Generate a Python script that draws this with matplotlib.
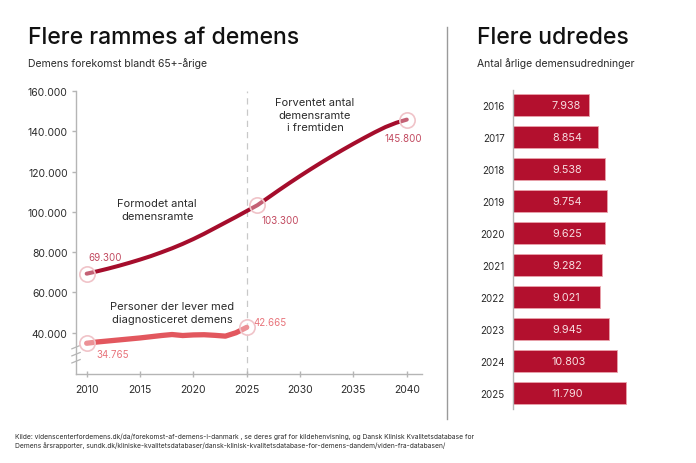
import matplotlib
matplotlib.use("Agg")
import matplotlib.pyplot as plt
from matplotlib.ticker import FuncFormatter
from matplotlib.lines import Line2D

plt.rcParams['font.family'] = ['Inter', 'DejaVu Sans']

# ---------------- data ----------------
years_est = list(range(2010, 2041))
dementia_est = [69300, 70500, 71800, 73200, 74700, 76300, 78000, 79900, 81900, 84100,
                86500, 89100, 91900, 94700, 97500, 100400, 103300, 107000, 110700, 114300,
                117800, 121200, 124500, 127700, 130800, 133800, 136700, 139500, 142100, 144200,
                145800]
years_diag = list(range(2010, 2026))
diagnosed = [34765, 35400, 35900, 36400, 36900, 37400, 38000, 38600, 39100, 38600,
             38900, 39000, 38700, 38300, 40000, 42665]
highlight_est_years = [2010, 2026, 2040]
highlight_est_vals = [69300, 103300, 145800]
highlight_diag_years = [2010, 2025]
highlight_diag_vals = [34765, 42665]

bar_years = ["2016", "2017", "2018", "2019", "2020", "2021", "2022", "2023", "2024", "2025"]
bar_values = [7938, 8854, 9538, 9754, 9625, 9282, 9021, 9945, 10803, 11790]

xticks_left = [2010, 2015, 2020, 2025, 2030, 2035, 2040]
yticks_left = [40000, 60000, 80000, 100000, 120000, 140000, 160000]

def dk(v):
    return f"{v:,.0f}".replace(",", ".")

DARK = "#a50d2c"
LIGHT = "#e2575e"
BAR = "#b3102e"
RING = "#f0c3c8"
TXT = "#2b2b2b"
GRAY = "#b5b5b5"

W, H = 696, 464
fig = plt.figure(figsize=(W / 100, H / 100), dpi=100)
fig.patch.set_facecolor("white")

def fx(px):
    return px / W

def fy(py):
    return 1 - py / H

# ---------------- left chart ----------------
ax = fig.add_axes([fx(76), fy(375), fx(421.7) - fx(76), fy(92) - fy(375)])
ax.set_xlim(2009.0, 2041.4)
ax.set_ylim(19500, 160000)
for s in ["top", "right"]:
    ax.spines[s].set_visible(False)
for s in ["left", "bottom"]:
    ax.spines[s].set_color(GRAY)
    ax.spines[s].set_linewidth(1.0)
ax.set_xticks(xticks_left)
ax.set_yticks(yticks_left)
ax.yaxis.set_major_formatter(FuncFormatter(lambda v, p: dk(v)))
ax.tick_params(axis="x", direction="inout", length=5, width=1, color=GRAY,
               labelsize=7.5, labelcolor=TXT, pad=5)
ax.tick_params(axis="y", direction="out", length=3, width=1, color=GRAY,
               labelsize=7.5, labelcolor=TXT, pad=3)

ax.axvline(2025, color="#c8c8c8", lw=0.9, ls=(0, (5, 4)), zorder=1)

ax.plot(years_est, dementia_est, color=DARK, lw=2.9, solid_capstyle="round", zorder=3)
ax.plot(years_diag, diagnosed, color=LIGHT, lw=3.8, solid_capstyle="round", zorder=3)

ax.plot(highlight_est_years, highlight_est_vals, ls="none", marker="o", ms=11,
        mfc=(1, 1, 1, 0.35), mec=RING, mew=1.2, zorder=4)
ax.plot(highlight_diag_years, highlight_diag_vals, ls="none", marker="o", ms=11,
        mfc=(1, 1, 1, 0.35), mec=RING, mew=1.2, zorder=4)

lab_dark = "#c24a60"
lab_light = "#e8747b"
ax.annotate(dk(highlight_est_vals[0]), (highlight_est_years[0], highlight_est_vals[0]),
            xytext=(1, 12), textcoords="offset points", fontsize=7, color=lab_dark, ha="left", va="center")
ax.annotate(dk(highlight_est_vals[1]), (highlight_est_years[1], highlight_est_vals[1]),
            xytext=(3, -11), textcoords="offset points", fontsize=7, color=lab_dark, ha="left", va="center")
ax.annotate(dk(highlight_est_vals[2]), (highlight_est_years[2], highlight_est_vals[2]),
            xytext=(-16, -13), textcoords="offset points", fontsize=7, color=lab_dark, ha="left", va="center")
ax.annotate(dk(highlight_diag_vals[0]), (highlight_diag_years[0], highlight_diag_vals[0]),
            xytext=(7, -8), textcoords="offset points", fontsize=7, color=lab_light, ha="left", va="center")
ax.annotate(dk(highlight_diag_vals[1]), (highlight_diag_years[1], highlight_diag_vals[1]),
            xytext=(5, 4), textcoords="offset points", fontsize=7, color=lab_light, ha="left", va="center")

ax.text(2016.6, 101100, "Formodet antal\ndemensramte", fontsize=8, color=TXT,
        ha="center", va="center", linespacing=1.3)
ax.text(2031.4, 148300, "Forventet antal\ndemensramte\ni fremtiden", fontsize=8, color=TXT,
        ha="center", va="center", linespacing=1.3)
ax.text(2018.0, 50100, "Personer der lever med\ndiagnosticeret demens", fontsize=8, color=TXT,
        ha="center", va="center", linespacing=1.3)

# axis break marks
for yy in [0.045, 0.07, 0.095]:
    ax.plot([-0.012, 0.012], [yy - 0.006, yy + 0.006], transform=ax.transAxes,
            color=GRAY, lw=0.9, clip_on=False)

# ---------------- right chart ----------------
bx = fig.add_axes([fx(513), fy(410), fx(680) - fx(513), fy(91) - fy(410)])
ypos = list(range(len(bar_years)))
bx.barh(ypos, bar_values, height=0.69, color=BAR, edgecolor="#e9a2ab", linewidth=0.6, zorder=2)
bx.set_ylim(9.5, -0.47)
bx.set_xlim(0, 167 / 0.00961)
for s in ["top", "right", "bottom"]:
    bx.spines[s].set_visible(False)
bx.spines["left"].set_color(GRAY)
bx.spines["left"].set_linewidth(1.0)
bx.set_xticks([])
bx.set_yticks(ypos)
bx.set_yticklabels(bar_years)
bx.tick_params(axis="y", length=0, labelsize=7, labelcolor=TXT, pad=6)
for yv, v in zip(ypos, bar_values):
    bx.text(4050, yv, dk(v), color="#f7dde0", fontsize=7.8, ha="left", va="center", zorder=3)

# ---------------- titles, divider, footer ----------------
fig.text(fx(28), fy(44.5), "Flere rammes af demens", fontsize=16.5, color="#111111",
         ha="left", va="baseline", fontweight="medium")
fig.text(fx(28), fy(67), "Demens forekomst blandt 65+-årige", fontsize=7.5, color=TXT,
         ha="left", va="baseline")
fig.text(fx(477), fy(44.5), "Flere udredes", fontsize=16.5, color="#111111",
         ha="left", va="baseline", fontweight="medium")
fig.text(fx(477), fy(67), "Antal årlige demensudredninger", fontsize=7.5, color=TXT,
         ha="left", va="baseline")

fig.add_artist(Line2D([fx(447), fx(447)], [fy(420), fy(28)], color="#9a9a9a", lw=1.0))

footer = ("Kilde: videnscenterfordemens.dk/da/forekomst-af-demens-i-danmark , se deres graf for kildehenvisning, "
          "og Dansk Klinisk Kvalitetsdatabase for\n"
          "Demens årsrapporter, sundk.dk/kliniske-kvalitetsdatabaser/dansk-klinisk-kvalitetsdatabase-for-demens-dandem/viden-fra-databasen/")
fig.text(fx(15), fy(448), footer, fontsize=4.8, color=TXT, ha="left", va="baseline", linespacing=1.35)

fig.savefig("out.png", dpi=100, facecolor="white")
